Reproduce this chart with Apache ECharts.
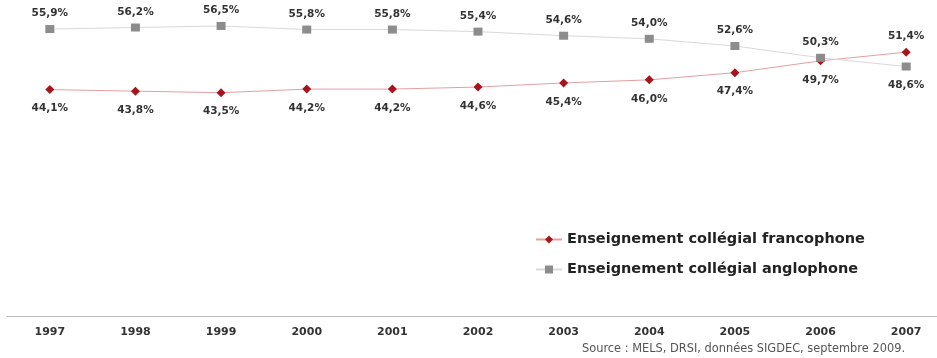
<!DOCTYPE html>
<html>
<head>
<meta charset="utf-8">
<script src="https://cdn.jsdelivr.net/npm/echarts@6/dist/echarts.min.js"></script>
<style>
  html, body { margin: 0; padding: 0; background: #fff; }
  #chart { width: 937px; height: 358px; }
</style>
</head>
<body>
<div id="chart"></div>
<script>
var years = ["1997", "1998", "1999", "2000", "2001", "2002", "2003", "2004", "2005", "2006", "2007"];
var francophone = [44.1, 43.8, 43.5, 44.2, 44.2, 44.6, 45.4, 46.0, 47.4, 49.7, 51.4];
var anglophone = [55.9, 56.2, 56.5, 55.8, 55.8, 55.4, 54.6, 54.0, 52.6, 50.3, 48.6];
// last year the lines cross: labels swap sides
var francoLabelPos = ["bottom", "bottom", "bottom", "bottom", "bottom", "bottom", "bottom", "bottom", "bottom", "bottom", "top"];
var angloLabelPos = ["top", "top", "top", "top", "top", "top", "top", "top", "top", "top", "bottom"];

var chart = echarts.init(document.getElementById("chart"));

function fmt(p) {
  return p.value.toFixed(1).replace(".", ",") + "%";
}

function buildData(values, positions) {
  var out = [];
  for (var i = 0; i < values.length; i++) {
    out.push({
      value: values[i],
      label: { position: positions[i], distance: positions[i] == "top" ? 6 : 9 }
    });
  }
  return out;
}

var labelStyle = {
  show: true,
  formatter: fmt,
  fontFamily: "DejaVu Sans",
  fontWeight: "bold",
  fontSize: 10.5,
  color: "#333"
};

var option = {
  backgroundColor: "#fff",
  animation: false,
  grid: { left: 7, top: 8, width: 942, height: 308, outerBoundsMode: "none", containLabel: false },
  legend: {
    orient: "vertical",
    left: 530,
    top: 227,
    itemWidth: 26,
    itemHeight: 10,
    itemGap: 15,
    textStyle: {
      fontFamily: "DejaVu Sans",
      fontWeight: "bold",
      fontSize: 14.5,
      color: "#222"
    },
    data: ["Enseignement collégial francophone", "Enseignement collégial anglophone"]
  },
  xAxis: {
    type: "category",
    data: years,
    boundaryGap: true,
    axisLine: { lineStyle: { color: "#bbb" } },
    axisTick: { length: 3, lineStyle: { color: "#bbb" } },
    axisLabel: {
      fontFamily: "DejaVu Sans",
      fontWeight: "bold",
      fontSize: 11,
      color: "#333",
      margin: 11
    }
  },
  yAxis: {
    type: "value",
    min: 0,
    max: 60,
    show: false
  },
  graphic: [{
    type: "text",
    right: 32,
    top: 344,
    style: {
      text: "Source : MELS, DRSI, données SIGDEC, septembre 2009.",
      font: "11.4px 'DejaVu Sans'",
      fill: "#555"
    }
  }],
  series: [
    {
      name: "Enseignement collégial francophone",
      type: "line",
      data: buildData(francophone, francoLabelPos),
      symbol: "diamond",
      symbolSize: 9,
      itemStyle: { color: "#a8141c" },
      lineStyle: { color: "#e4a0a0", width: 1 },
      label: labelStyle
    },
    {
      name: "Enseignement collégial anglophone",
      type: "line",
      data: buildData(anglophone, angloLabelPos),
      symbol: "rect",
      symbolSize: [9, 8],
      itemStyle: { color: "#8c8c8c" },
      lineStyle: { color: "#d9d9d9", width: 1 },
      label: labelStyle
    }
  ]
};

chart.setOption(option);
</script>
</body>
</html>
